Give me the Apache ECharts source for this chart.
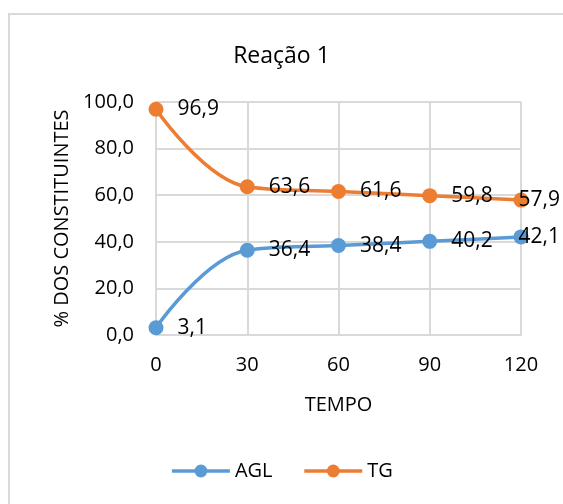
<!DOCTYPE html>
<html>
<head>
<meta charset="utf-8">
<script src="https://cdn.jsdelivr.net/npm/echarts@6/dist/echarts.min.js"></script>
<style>
html,body{margin:0;padding:0;background:#fff;}
#c{width:563px;height:504px;}
</style>
</head>
<body>
<div id="c"></div>
<script>
var tempo = [0, 30, 60, 90, 120];
var agl = [3.1, 36.4, 38.4, 40.2, 42.1];
var tg = [96.9, 63.6, 61.6, 59.8, 57.9];
var yTicks = [0, 20, 40, 60, 80, 100];

var FONT = 'Open Sans';
function fmt(v){ return v.toFixed(1).replace('.', ','); }
function pairs(vals){
  return tempo.map(function(t, i){
    var item = { value: [t, vals[i]] };
    if (i === tempo.length - 1) item.label = { offset: [-24, 0] };
    return item;
  });
}

var chart = echarts.init(document.getElementById('c'), null, {renderer: 'canvas'});
chart.setOption({
  animation: false,
  backgroundColor: '#fff',
  graphic: [{
    type: 'rect', left: 8, top: 13, silent: true, z: -10,
    shape: { width: 600, height: 600 },
    style: { fill: '#fff', stroke: '#d9d9d9', lineWidth: 2 }
  }],
  title: {
    text: 'Reação 1', left: 'center', top: 40,
    textStyle: { fontFamily: FONT, fontSize: 23, fontWeight: 'normal', color: '#000' }
  },
  legend: {
    bottom: 18, left: 'center', itemWidth: 58, itemHeight: 16, itemGap: 30,
    lineStyle: { width: 3.5 },
    textStyle: { fontFamily: FONT, fontSize: 20, color: '#000' },
    data: ['AGL', 'TG']
  },
  grid: { left: 156, right: 42, top: 102, bottom: 169 },
  xAxis: {
    type: 'value', min: 0, max: 120, interval: 30,
    name: 'TEMPO', nameLocation: 'middle', nameGap: 60,
    nameTextStyle: { fontFamily: FONT, fontSize: 20, color: '#000' },
    axisLine: { show: true, lineStyle: { color: '#d9d9d9', width: 2 } },
    axisTick: { show: false },
    axisLabel: { fontFamily: FONT, fontSize: 20, color: '#000', margin: 20 },
    splitLine: { show: true, lineStyle: { color: '#d9d9d9', width: 2 } }
  },
  yAxis: {
    type: 'value', min: 0, max: 100, interval: 20,
    name: '% DOS CONSTITUINTES', nameLocation: 'middle', nameGap: 82,
    nameTextStyle: { fontFamily: FONT, fontSize: 20, color: '#000' },
    axisLine: { show: true, lineStyle: { color: '#d9d9d9', width: 2 } },
    axisTick: { show: false },
    axisLabel: { fontFamily: FONT, fontSize: 20, color: '#000', margin: 22, formatter: function(v){ return fmt(v); } },
    splitLine: { show: true, lineStyle: { color: '#d9d9d9', width: 2 } }
  },
  series: [
    {
      name: 'AGL', type: 'line', smooth: 0.4, data: pairs(agl),
      symbol: 'circle', symbolSize: 15,
      itemStyle: { color: '#5B9BD5' },
      lineStyle: { color: '#5B9BD5', width: 3.5 },
      label: { show: true, position: 'right', distance: 14, fontFamily: FONT, fontSize: 21, color: '#000',
        formatter: function(p){ return fmt(p.value[1]); } }
    },
    {
      name: 'TG', type: 'line', smooth: 0.4, data: pairs(tg),
      symbol: 'circle', symbolSize: 15,
      itemStyle: { color: '#ED7D31' },
      lineStyle: { color: '#ED7D31', width: 3.5 },
      label: { show: true, position: 'right', distance: 14, fontFamily: FONT, fontSize: 21, color: '#000',
        formatter: function(p){ return fmt(p.value[1]); } }
    }
  ]
});
</script>
</body>
</html>
